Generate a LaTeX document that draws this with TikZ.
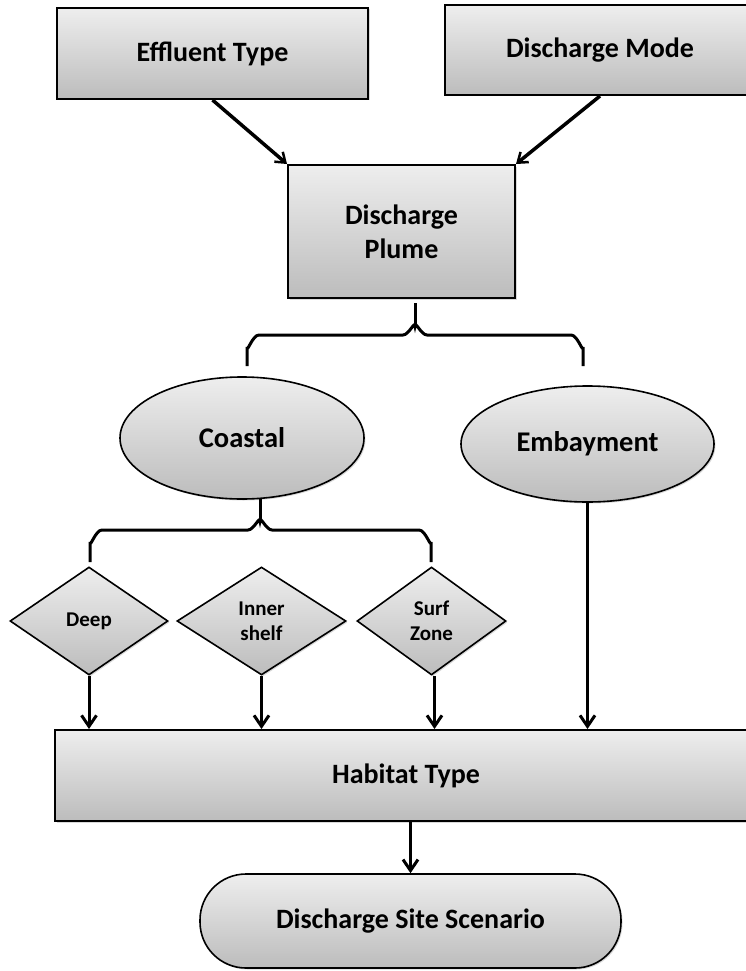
\documentclass[tikz,border=0pt]{standalone}
\usepackage{fontspec}
\setmainfont{Carlito}
\usetikzlibrary{shapes.geometric,arrows.meta,shadows}
\definecolor{gtop}{RGB}{238,238,238}
\definecolor{gbot}{RGB}{188,188,188}
\begin{document}
\begin{tikzpicture}[x=1pt,y=-1pt,
  base/.style={draw=black, top color=gtop, bottom color=gbot, align=center, inner sep=0pt,
    drop shadow={shadow xshift=1.5pt, shadow yshift=-1.5pt, opacity=0.3}},
  boxnode/.style={base, rectangle, line width=2pt, font=\fontsize{28}{34}\selectfont\bfseries},
  ellnode/.style={base, ellipse, line width=1.6pt, font=\fontsize{28.5}{34}\selectfont\bfseries},
  dianode/.style={base, diamond, line width=1.6pt, font=\fontsize{21}{25}\selectfont\bfseries},
  termnode/.style={base, rectangle, rounded corners=46pt, line width=1.6pt, font=\fontsize{28}{34}\selectfont\bfseries},
  toparrow/.style={line width=3.5pt, -{Straight Barb[length=9pt,width=13pt,line width=2.5pt]}},
  arrow/.style={line width=3pt, -{Straight Barb[length=11pt,width=15pt,line width=3pt]}},
  bracket/.style={line width=3pt, line cap=butt},
]
\useasboundingbox (0,0) rectangle (746,971);
\clip (0,0) rectangle (746,971);

\node[boxnode, minimum width=311pt, minimum height=91pt] (eff) at (212.5,53.5) {Effluent Type};
\node[boxnode, minimum width=310pt, minimum height=90pt] (mode) at (600,50) {Discharge Mode};
\node[boxnode, minimum width=227pt, minimum height=133pt] (plume) at (401.5,231.5) {Discharge\\Plume};

\node[ellnode, minimum width=244pt, minimum height=122pt] (coastal) at (242,438) {Coastal};
\node[ellnode, minimum width=253pt, minimum height=116pt] (emb) at (587.5,444) {Embayment};

\node[dianode, minimum width=158pt, minimum height=108pt] (deep) at (89,621) {Deep};
\node[dianode, minimum width=169pt, minimum height=108pt] (inner) at (261.5,621) {Inner\\shelf};
\node[dianode, minimum width=149pt, minimum height=108pt] (surf) at (431.5,621) {Surf\\Zone};

\node[boxnode, minimum width=702pt, minimum height=91pt] (hab) at (406,775.5) {Habitat Type};
\node[termnode, minimum width=421pt, minimum height=94pt] (scen) at (410.5,921) {Discharge Site Scenario};

% top arrows
\draw[toparrow] (eff.south) -- (plume.north west);
\draw[toparrow] (mode.south) -- (plume.north east);

% brace under plume
\coordinate (p1) at (415,303);
\coordinate (p2) at (415,326);
\draw[bracket] (p1) -- (p2);
\draw[bracket] (247,366) -- (247,347) to[out=-90,in=180] (259,335) -- (403,335) to[out=0,in=90] (p2)
  to[out=90,in=180] (427,335) -- (571,335) to[out=0,in=-90] (583,347) -- (583,366);

% brace under coastal
\coordinate (c1) at (260,499);
\coordinate (c2) at (260,521);
\draw[bracket] (c1) -- (c2);
\draw[bracket] (90,562) -- (90,542) to[out=-90,in=180] (102,530) -- (248,530) to[out=0,in=90] (c2)
  to[out=90,in=180] (272,530) -- (419,530) to[out=0,in=-90] (431,542) -- (431,562);

% arrows to habitat
\draw[arrow] (deep.south) -- (deep.south |- hab.north);
\draw[arrow] (inner.south) -- (inner.south |- hab.north);
\draw[arrow] ([xshift=3pt]surf.south) -- ([xshift=3pt]surf.south |- hab.north);
\draw[arrow] (emb.south) -- (emb.south |- hab.north);

% habitat to scenario
\draw[arrow] (hab.south -| scen.north) -- (scen.north);
\end{tikzpicture}
\end{document}
